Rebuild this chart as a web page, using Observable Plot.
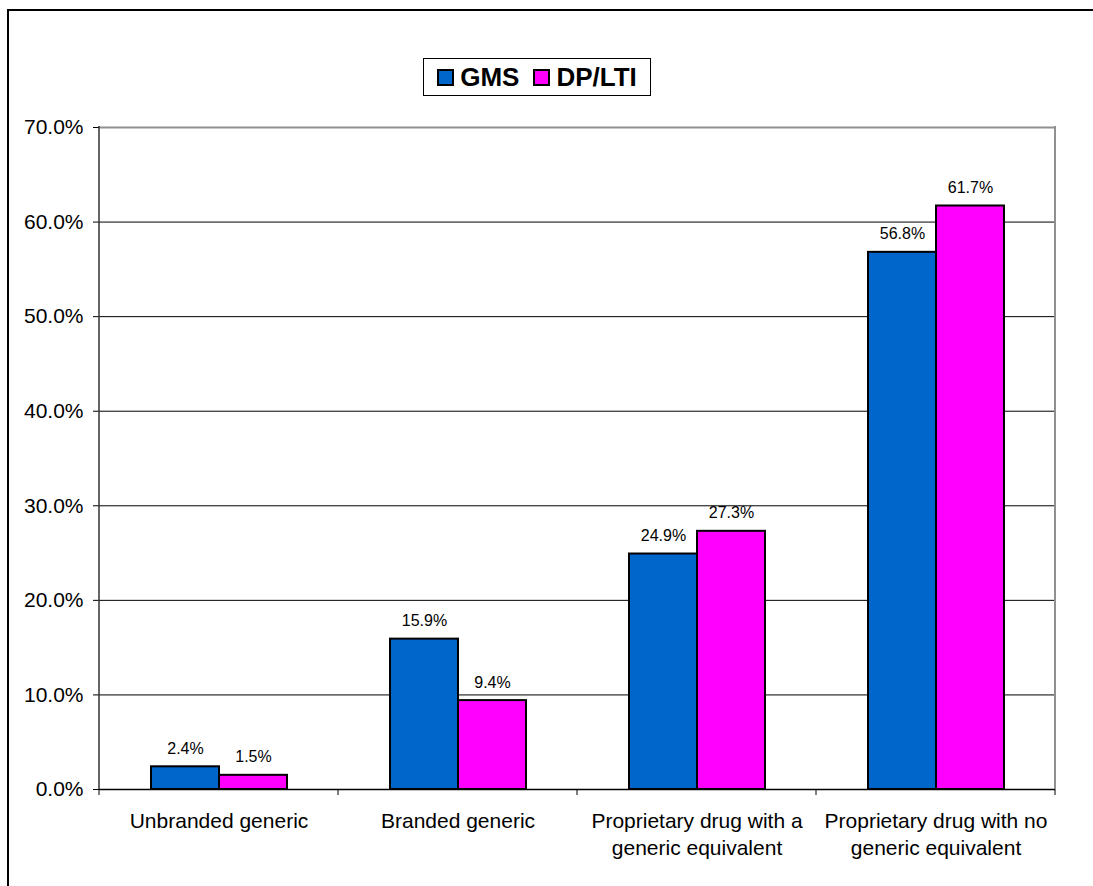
<!DOCTYPE html>
<html>
<head>
<meta charset="utf-8">
<script src="https://cdn.jsdelivr.net/npm/d3@7"></script>
<script src="https://cdn.jsdelivr.net/npm/@observablehq/plot@0.6"></script>
<style>
  html, body { margin: 0; padding: 0; background: #fff; overflow: hidden; }
  #wrap { position: relative; width: 1093px; height: 886px; overflow: hidden; font-family: "Liberation Sans", Arial, sans-serif; }
  #frame { position: absolute; left: 7px; top: 9px; width: 2000px; height: 2000px; border-left: 2px solid #000; border-top: 2px solid #000; }
  #legend { position: absolute; left: 423px; top: 58px; width: 226px; height: 36px; border: 1px solid #000; background: #fff;
            display: flex; align-items: center; justify-content: center; gap: 14px; font-weight: bold; font-size: 26px; color: #000; z-index: 2; }
  #legend .item { display: flex; align-items: center; gap: 6px; }
  #legend .sw { width: 13px; height: 13px; border: 2px solid #000; display: inline-block; }
  #chart { position: absolute; left: 0; top: 0; }
</style>
</head>
<body>
<div id="wrap">
  <div id="frame"></div>
  <div id="chart"></div>
  <div id="legend"></div>
</div>
<script>
const categories = ["Unbranded generic", "Branded generic", "Proprietary drug with a generic equivalent", "Proprietary drug with no generic equivalent"];
const categoryLabels = ["Unbranded generic", "Branded generic", "Proprietary drug with a\ngeneric equivalent", "Proprietary drug with no\ngeneric equivalent"];
const series = ["GMS", "DP/LTI"];
const gmsValues = [2.4, 15.9, 24.9, 56.8];
const dpltiValues = [1.5, 9.4, 27.3, 61.7];
const colors = ["#0066CC", "#FF00FF"];
const yTicks = [0, 10, 20, 30, 40, 50, 60, 70];

const data = categories.flatMap((c, i) => [
  {category: c, series: series[0], value: gmsValues[i]},
  {category: c, series: series[1], value: dpltiValues[i]}
]);

const fmt = d => d.toFixed(1) + "%";

const chart = Plot.plot({
  width: 1093,
  height: 886,
  marginLeft: 98,
  marginRight: 38,
  marginTop: 127,
  marginBottom: 97,
  style: {fontFamily: "'Liberation Sans', Arial, sans-serif", fontSize: "21px", background: "transparent", color: "#000"},
  fx: {domain: categories, padding: 0, label: null, axis: null},
  x: {domain: series, paddingInner: 0, paddingOuter: 0.733, axis: null},
  y: {domain: [0, 70], label: null},
  color: {domain: series, range: colors},
  marks: [
    Plot.gridY(yTicks.filter(t => t > 0 && t < 70), {stroke: "#000", strokeOpacity: 1, strokeWidth: 1}),
    Plot.ruleY([70], {stroke: "#909090", strokeWidth: 2}),
    Plot.barY(data, {fx: "category", x: "series", y: "value", fill: "series", stroke: "#000", strokeWidth: 2}),
    Plot.text(data, {fx: "category", x: "series", y: "value", text: d => fmt(d.value), dy: -13, lineAnchor: "bottom", fontSize: 16, fill: "#000"}),
    Plot.axisY({ticks: yTicks, tickFormat: fmt, tickSize: 6, tickPadding: 10, fontSize: 21, label: null, stroke: "#000"}),
    Plot.axisFx({anchor: "bottom", tickSize: 0, tickPadding: 19, tickFormat: (c) => categoryLabels[categories.indexOf(c)], fontSize: 21, lineHeight: 1.3, label: null}),
    Plot.ruleY([0], {stroke: "#000", strokeWidth: 1.5})
  ]
});

// axis lines and category boundary ticks from the library's scales
const fxS = chart.scale("fx");
const yS = chart.scale("y");
const y0 = yS.apply(0), yTop = yS.apply(70);
const bounds = categories.map(c => fxS.apply(c));
const rightEdge = fxS.apply(categories[categories.length - 1]) + fxS.bandwidth;
bounds.push(rightEdge);
const g = d3.select(chart).append("g");
g.append("line").attr("x1", bounds[0]).attr("x2", bounds[0]).attr("y1", yTop - 1).attr("y2", y0).attr("stroke", "#333").attr("stroke-width", 1.5);
g.append("line").attr("x1", rightEdge).attr("x2", rightEdge).attr("y1", yTop - 1).attr("y2", y0).attr("stroke", "#909090").attr("stroke-width", 2);
bounds.forEach(b => {
  g.append("line").attr("x1", b).attr("x2", b).attr("y1", y0).attr("y2", y0 + 6).attr("stroke", "#000").attr("stroke-width", 1);
});

document.getElementById("chart").appendChild(chart);

const legend = document.getElementById("legend");
series.forEach((s, i) => {
  const item = document.createElement("span");
  item.className = "item";
  const sw = document.createElement("span");
  sw.className = "sw";
  sw.style.background = colors[i];
  item.appendChild(sw);
  item.appendChild(document.createTextNode(s));
  legend.appendChild(item);
});
</script>
</body>
</html>
